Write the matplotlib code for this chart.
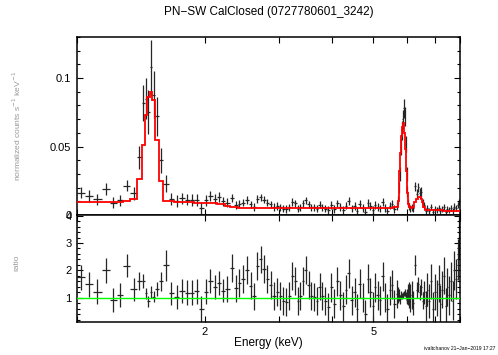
import numpy as np
import matplotlib
matplotlib.use("Agg")
import matplotlib.pyplot as plt
from matplotlib.ticker import FixedLocator, FixedFormatter, MultipleLocator

plt.rcParams['font.family'] = ['Liberation Sans', 'DejaVu Sans']

# channel energy bin edges (keV)
edges = [1.000, 1.044, 1.092, 1.143, 1.193, 1.240, 1.285, 1.335, 1.386, 1.421,
         1.444, 1.464, 1.484, 1.505, 1.531, 1.562, 1.597, 1.644, 1.694, 1.740,
         1.793, 1.845, 1.891, 1.940, 1.991,
         2.038, 2.088, 2.138, 2.187, 2.237, 2.289, 2.340, 2.392, 2.440, 2.491,
         2.543, 2.590, 2.637, 2.688, 2.736, 2.787, 2.836, 2.887, 2.939, 2.990,
         3.040, 3.089, 3.140, 3.188, 3.240, 3.293, 3.342, 3.388, 3.436, 3.487,
         3.542, 3.596, 3.651, 3.707, 3.762, 3.817, 3.876, 3.939,
         4.01, 4.08, 4.14, 4.21, 4.28, 4.34, 4.41, 4.48, 4.55, 4.61,
         4.68, 4.75, 4.82, 4.88, 4.95, 5.02, 5.08, 5.15, 5.22, 5.29,
         5.36, 5.43, 5.50, 5.57, 5.64, 5.70,
         5.73, 5.76, 5.79, 5.82, 5.85, 5.88, 5.91, 5.94, 5.97, 6.00,
         6.03, 6.06, 6.09, 6.12,
         6.18, 6.24, 6.30, 6.36, 6.41, 6.46, 6.51, 6.56, 6.61, 6.67,
         6.74, 6.81, 6.88, 6.95, 7.02, 7.09, 7.16, 7.23, 7.30, 7.37,
         7.44, 7.51, 7.58, 7.65, 7.72, 7.79, 7.86, 7.93, 8.00]

# observed rate (normalized counts s^-1 keV^-1)
rate = [0.0163, 0.0140, 0.0115, 0.0190, 0.0090, 0.0106, 0.0215, 0.0158, 0.0420, 0.0820,
        0.0850, 0.0750, 0.1080, 0.0880, 0.0720, 0.0400, 0.0230, 0.0117, 0.0101, 0.0121,
        0.0112, 0.0109, 0.0111, 0.0051,
        0.0106, 0.0139, 0.0118, 0.0129, 0.0099, 0.0090, 0.0123, 0.0074, 0.0083, 0.0091,
        0.0109, 0.0078, 0.0057, 0.0117, 0.0130, 0.0111, 0.0091, 0.0077, 0.0057, 0.0065,
        0.0056, 0.0047, 0.0045, 0.0056, 0.0095, 0.0086, 0.0047, 0.0056, 0.0086, 0.0107,
        0.0078, 0.0056, 0.0055, 0.0047, 0.0075, 0.0056, 0.0047, 0.0036,
        0.0074, 0.0042, 0.0085, 0.0058, 0.0037, 0.0069, 0.0101, 0.0048, 0.0064, 0.0032,
        0.0080, 0.0053, 0.0021, 0.0090, 0.0064, 0.0037, 0.0074, 0.0058, 0.0048, 0.0095,
        0.0053, 0.0032, 0.0069, 0.0080, 0.0042, 0.0064,
        0.011, 0.020, 0.030, 0.050, 0.062, 0.070, 0.078, 0.072, 0.052, 0.030,
        0.017, 0.009, 0.006, 0.005,
        0.0055, 0.0048, 0.0209, 0.0156, 0.0201, 0.0161, 0.0168, 0.0087, 0.0072, 0.0028,
        0.0048, 0.0032, 0.0056, 0.0021, 0.0041, 0.0034, 0.0050, 0.0026, 0.0043, 0.0058,
        0.0022, 0.0045, 0.0034, 0.0050, 0.0028, 0.0062, 0.0051, 0.0072, 0.0096]

rate_err = [0.0042, 0.0042, 0.0042, 0.0042, 0.0042, 0.0042, 0.0042, 0.0050, 0.0085, 0.0130,
            0.0150, 0.0160, 0.0200, 0.0170, 0.0140, 0.0090, 0.0060, 0.0042, 0.0042, 0.0042,
            0.0042, 0.0042, 0.0042, 0.0042,
            0.0038, 0.0038, 0.0037, 0.0036, 0.0034, 0.0032, 0.0030, 0.0027, 0.0027, 0.0027,
            0.0027, 0.0027, 0.0027, 0.0027, 0.0027, 0.0027, 0.0027, 0.0027, 0.0027, 0.0027,
            0.0027, 0.0027, 0.0027, 0.0027, 0.0027, 0.0027, 0.0027, 0.0027, 0.0027, 0.0027,
            0.0027, 0.0027, 0.0027, 0.0027, 0.0027, 0.0027, 0.0027, 0.0027,
            0.0028, 0.0028, 0.0028, 0.0028, 0.0028, 0.0028, 0.0028, 0.0028, 0.0028, 0.0028,
            0.0028, 0.0028, 0.0028, 0.0028, 0.0028, 0.0028, 0.0028, 0.0028, 0.0028, 0.0028,
            0.0028, 0.0028, 0.0028, 0.0028, 0.0028, 0.0028,
            0.003, 0.004, 0.005, 0.006, 0.007, 0.007, 0.007, 0.007, 0.006, 0.005,
            0.004, 0.003, 0.0026, 0.0026,
            0.0026, 0.0026, 0.0035, 0.0035, 0.0036, 0.0036, 0.0035, 0.0030, 0.0026, 0.0022,
            0.0022, 0.0022, 0.0022, 0.0022, 0.0022, 0.0022, 0.0022, 0.0022, 0.0022, 0.0022,
            0.0022, 0.0022, 0.0022, 0.0022, 0.0022, 0.0022, 0.0022, 0.0022, 0.0022]

# folded model
model = [0.0093, 0.0094, 0.0094, 0.0095, 0.0096, 0.0097, 0.0099, 0.0120, 0.0260, 0.0510,
         0.0730, 0.0860, 0.0896, 0.0840, 0.0550, 0.0250, 0.0105, 0.0100, 0.0098, 0.0096,
         0.0094, 0.0092, 0.0090, 0.0087,
         0.0086, 0.0086, 0.0085, 0.0083, 0.0078, 0.0068, 0.0059, 0.0055, 0.0054, 0.0054,
         0.0054, 0.0054, 0.0054, 0.0054, 0.0054, 0.0054, 0.0054, 0.0053, 0.0053, 0.0053,
         0.0053, 0.0053, 0.0053, 0.0053, 0.0053, 0.0053, 0.0053, 0.0053, 0.0053, 0.0053,
         0.0053, 0.0053, 0.0053, 0.0053, 0.0053, 0.0053, 0.0053, 0.0053,
         0.0053, 0.0053, 0.0053, 0.0053, 0.0053, 0.0053, 0.0053, 0.0053, 0.0053, 0.0053,
         0.0053, 0.0053, 0.0053, 0.0053, 0.0053, 0.0053, 0.0053, 0.0053, 0.0053, 0.0053,
         0.0053, 0.0053, 0.0054, 0.0054, 0.0055, 0.0056,
         0.010, 0.018, 0.032, 0.045, 0.058, 0.064, 0.067, 0.060, 0.048, 0.032,
         0.016, 0.008, 0.0055, 0.0050,
         0.0050, 0.0060, 0.0095, 0.0120, 0.0134, 0.0134, 0.0120, 0.0097, 0.0060, 0.0040,
         0.0037, 0.0036, 0.0035, 0.0035, 0.0034, 0.0034, 0.0033, 0.0033, 0.0033, 0.0032,
         0.0032, 0.0032, 0.0031, 0.0031, 0.0031, 0.0031, 0.0030, 0.0030, 0.0030]

edges = np.array(edges)
rate = np.array(rate)
rate_err = np.array(rate_err)
model = np.array(model)
centers = (edges[:-1] + edges[1:]) / 2
halfw = (edges[1:] - edges[:-1]) / 2
ratio = rate / model
ratio_err = rate_err / model

fig = plt.figure(figsize=(4.98, 3.55), dpi=100)
left, width = 77 / 498, 383 / 498
ax1 = fig.add_axes([left, 1 - 215 / 355, width, 178 / 355])
ax2 = fig.add_axes([left, 1 - 321.5 / 355, width, 106.5 / 355])

ax1.errorbar(centers, rate, xerr=halfw, yerr=rate_err, fmt='none',
             ecolor='0.15', elinewidth=0.9)
ax1.stairs(model, edges, baseline=None, color='red', lw=1.3, zorder=3)

ax2.errorbar(centers, ratio, xerr=halfw, yerr=ratio_err, fmt='none',
             ecolor='0.15', elinewidth=0.9)
ax2.axhline(1, color='#00ff00', lw=1, zorder=3)

for ax in (ax1, ax2):
    ax.set_xscale('log')
    ax.set_xlim(1.0, 8.0)
    ax.xaxis.set_major_locator(FixedLocator([1, 2, 3, 4, 5, 6, 7, 8]))
    ax.xaxis.set_major_formatter(FixedFormatter(['', '2', '', '', '5', '', '', '']))
    ax.xaxis.set_minor_locator(FixedLocator([]))
    ax.tick_params(which='both', direction='in', top=True, right=True,
                   labelsize=8, width=0.8, pad=4)
    ax.tick_params(which='major', length=4)
    ax.tick_params(which='minor', length=2)
    for s in ax.spines.values():
        s.set_linewidth(1.1)

ax1.set_ylim(0, 0.130)
ax1.yaxis.set_major_locator(FixedLocator([0, 0.05, 0.1]))
ax1.yaxis.set_major_formatter(FixedFormatter(['0', '0.05', '0.1']))
ax1.yaxis.set_minor_locator(MultipleLocator(0.01))
ax1.tick_params(labelbottom=False)

ax2.set_ylim(0.14, 4.02)
ax2.yaxis.set_major_locator(FixedLocator([1, 2, 3, 4]))
ax2.yaxis.set_major_formatter(FixedFormatter(['1', '2', '3', '4']))
ax2.yaxis.set_minor_locator(MultipleLocator(0.2))

fig.text(0.539, 0.966, 'PN\u2212SW CalClosed (0727780601_3242)', ha='center',
         va='center', fontsize=8.5)
fig.text(0.539, 0.034, 'Energy (keV)', ha='center', va='center', fontsize=8.5)
fig.text(0.034, 0.645, 'normalized counts s$^{-1}$ keV$^{-1}$', rotation=90,
         ha='center', va='center', fontsize=6, color='0.6')
fig.text(0.034, 0.259, 'ratio', rotation=90, ha='center', va='center',
         fontsize=6, color='0.6')
fig.text(0.994, 0.012, 'ivaltchanov 21\u2212Jan\u22122019 17:27', fontsize=3.6,
         ha='right', va='bottom')

fig.savefig('out.png', dpi=100)
